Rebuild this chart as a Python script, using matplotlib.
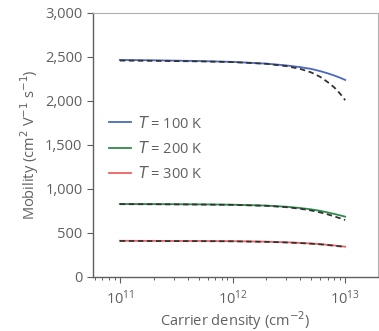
import matplotlib.pyplot as plt
import matplotlib.ticker as mticker
import numpy as np

# carrier density (cm^-2)
density = [1e11, 2e11, 5e11, 1e12, 2e12, 3e12, 4e12, 5e12, 6e12, 7e12, 8e12, 9e12, 1e13]

# mobility (cm^2 V^-1 s^-1), solid = full model, dashed = fit
mu_100 = [2462, 2458, 2450, 2440, 2420, 2400, 2380, 2360, 2335, 2310, 2285, 2260, 2235]
mu_100_fit = [2455, 2452, 2446, 2438, 2418, 2392, 2360, 2320, 2270, 2210, 2150, 2080, 2005]
mu_200 = [826, 825, 822, 818, 808, 795, 780, 765, 748, 730, 713, 697, 682]
mu_200_fit = [824, 823, 820, 816, 805, 790, 772, 752, 730, 708, 685, 664, 644]
mu_300 = [408, 407, 406, 404, 398, 391, 384, 377, 370, 362, 355, 348, 341]
mu_300_fit = [406, 405, 404, 402, 396, 389, 382, 375, 368, 360, 352, 345, 338]

temps = ["100", "200", "300"]
colors = ["#4a68c0", "#2e8b4a", "#f06060"]

gray = "#606060"
plt.rcParams['font.family'] = ['Open Sans', 'DejaVu Sans']

fig = plt.figure(figsize=(3.79, 3.31), dpi=100)
ax = fig.add_axes([0.245, 0.164, 0.752, 0.798])

for mu, fit, c, t in zip([mu_100, mu_200, mu_300], [mu_100_fit, mu_200_fit, mu_300_fit], colors, temps):
    ax.plot(density, mu, color=c, lw=1.3, label=r"$T$ = " + t + " K")
    ax.plot(density, fit, color="#333333", lw=1.3, ls=(0, (3, 2)))

ax.set_xscale("log")
ax.set_xlim(5.76e10, 1.95e13)
ax.set_ylim(0, 3000)
ax.set_yticks(np.arange(0, 3001, 500))
ax.yaxis.set_major_formatter(mticker.FuncFormatter(lambda v, p: f"{int(v):,}"))
ax.xaxis.set_major_locator(mticker.LogLocator(base=10, numticks=10))

for s in ["top", "right"]:
    ax.spines[s].set_color("#b0b0b0")
for s in ["left", "bottom"]:
    ax.spines[s].set_color(gray)
    ax.spines[s].set_linewidth(1.0)

ax.tick_params(axis="both", colors=gray, labelsize=10.5, length=4, width=0.8)
ax.tick_params(axis="x", which="minor", length=2, width=0.7, colors=gray)
ax.tick_params(axis="x", pad=5)

ax.set_xlabel("Carrier density (cm$^{-2}$)", color=gray, fontsize=10.5, labelpad=1)
ax.set_ylabel("Mobility (cm$^{2}$ V$^{-1}$ s$^{-1}$)", color=gray, fontsize=10.5, labelpad=3)

leg = ax.legend(loc="upper left", bbox_to_anchor=(0.01, 0.66), frameon=False,
                fontsize=10.5, handlelength=1.5, handletextpad=0.5, labelspacing=0.65)
for txt in leg.get_texts():
    txt.set_color(gray)

fig.savefig("out.png", dpi=100)
